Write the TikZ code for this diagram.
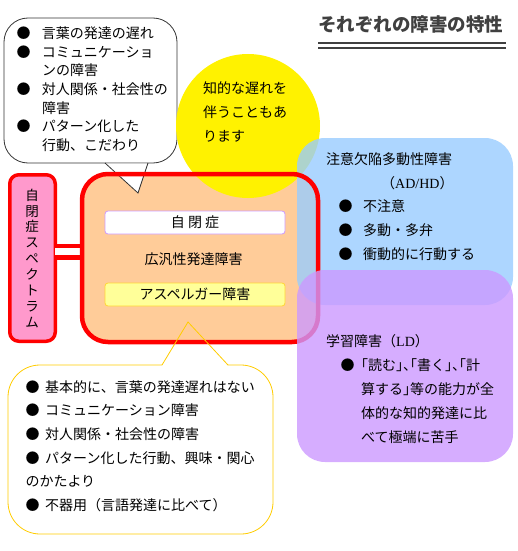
\documentclass[tikz,border=0pt]{standalone}
\usepackage{fontspec}
\setmainfont{Noto Sans CJK JP}
\newfontfamily\romanfont{Liberation Serif}
\usepackage{xcolor}

\definecolor{peach}{HTML}{FFCC99}
\definecolor{pinkfill}{HTML}{FF99CC}
\definecolor{adhdblue}{HTML}{99CCFF}
\definecolor{ldpurple}{HTML}{CC99FF}
\definecolor{aspyellow}{HTML}{FFFF99}
\definecolor{gold}{HTML}{FFCC00}
\definecolor{titlegray}{HTML}{404040}

\newcommand{\bul}[1][24pt]{\makebox[#1][l]{●}}
\newcommand{\halfpunct}[1]{{\addfontfeatures{RawFeature=+halt}#1}}

\begin{document}
\begin{tikzpicture}[x=1pt,y=-1pt,
  txt/.style={inner sep=0pt,align=left,anchor=base west},
  pitch/.style={font=\fontsize{14}{#1}\selectfont},
  box/.style={inner sep=0pt,outer sep=0pt,anchor=north west},
  talkbox/.style={box,draw=black!80,fill=white,line width=0.8pt,rounded corners=24pt},
  notebox/.style={box,draw=gold,fill=white,line width=0.8pt,rounded corners=32pt},
  softbox/.style={box,rounded corners=28pt,fill opacity=0.8,minimum width=216pt}]
  \useasboundingbox (0,0) rectangle (517,551);

  % title
  \node[txt,font=\fontsize{18.5}{20}\selectfont\bfseries,text=titlegray] (title) at (318,32) {それぞれの障害の特性};
  \draw[titlegray,line width=2.6pt,double distance=2.4pt] (318,45.5) -- (506,45.5);

  % callout at the top (base = last line)
  \node[talkbox,minimum width=173pt,minimum height=145pt] (talk) at (4,18) {};
  \node[txt,pitch=18.7] (talktxt) at (16.3,150.5) {\bul[25.5pt]言葉の発達の遅れ\\
    \bul[25.5pt]コミュニケーショ\\ \hspace*{25.5pt}ンの障害\\
    \bul[25.5pt]対人関係・社会性の\\ \hspace*{25.5pt}障害\\
    \bul[25.5pt]パターン化した\\ \hspace*{25.5pt}行動、こだわり};

  % spectrum bar
  \node[box,draw=red,fill=pinkfill,line width=3.5pt,rounded corners=9pt,
    minimum width=45.5pt,minimum height=166.5pt] (spec) at (9.75,174.75) {};
  \node[inner sep=0pt,font=\fontsize{13.5}{15.9}\selectfont,align=center,anchor=base] (spectxt)
    at (32,327.3) {自\\閉\\症\\ス\\ペ\\ク\\ト\\ラ\\ム};

  % pdd box, circle, tail, adhd
  \node[box,fill=peach,rounded corners=26pt,minimum width=236pt,minimum height=168pt] (pdd) at (82,174) {};
  \node[circle,fill=yellow,minimum size=144pt,inner sep=0pt] (slow) at (248,126) {};
  \node[txt,pitch=24] (slowtxt) at (203,141.3) {知的な遅れを\\伴うこともあ\\ります};
  \fill[white] (105.5,163.6) -- (138,193) -- (147.5,163.6) -- cycle;
  \draw[black!80,line width=0.8pt] (105,163) -- (138,193) -- (148,163);
  \node[softbox,fill=adhdblue,minimum height=167pt] (adhd) at (297,138) {};

  \coordinate (bar) at (0,251.5);
  \draw[red,line width=4.5pt,double distance=7pt] (spec.east |- bar) -- (pdd.west |- bar);
  \draw[red,line width=4.5pt,rounded corners=26pt] (pdd.north west) rectangle (pdd.south east);

  \node[box,draw=ldpurple,fill=white,line width=0.8pt,rounded corners=3pt,
    minimum width=180pt,minimum height=23pt,font=\fontsize{14}{16}\selectfont] (autism) at (105,211) {自 閉 症};
  \node[font=\fontsize{14}{16}\selectfont] (pddtxt) at (193.5,259) {広汎性発達障害};
  \node[box,draw=gold!80,fill=aspyellow,line width=0.8pt,rounded corners=3pt,
    minimum width=180pt,minimum height=23pt,font=\fontsize{14}{16}\selectfont] (asp) at (105,283) {アスペルガー障害};

  \node[txt,pitch=23.75] (adhdtxt) at (326,259.3) {注意欠陥多動性障害\\
    \hspace*{55pt}（{\romanfont AD/HD}）\\
    \hspace*{12.3pt}\bul[24.7pt]不注意\\
    \hspace*{12.3pt}\bul[24.7pt]多動・多弁\\
    \hspace*{12.3pt}\bul[24.7pt]衝動的に行動する};

  % learning disorder
  \node[softbox,fill=ldpurple,minimum height=192pt] (ld) at (297,270) {};
  \node[txt,pitch=24] (ldtxt) at (326,442.3) {学習障害（{\romanfont LD}）\\
    \hspace*{14.3pt}\bul[20.7pt]\halfpunct{「}読む\halfpunct{」、「}書く\halfpunct{」、「}計\\
    \hspace*{35pt}算する\halfpunct{」}等の能力が全\\
    \hspace*{35pt}体的な知的発達に比\\
    \hspace*{35pt}べて極端に苦手};

  % callout at the bottom
  \node[notebox,minimum width=265pt,minimum height=169pt] (note) at (8,365) {};
  \fill[white] (162.1,365.8) -- (174.7,344.5) -- (208.5,344.5) -- (227.8,365.8) -- cycle;
  \draw[gold,line width=0.8pt] (162,365) -- (188,322) -- (228,365);
  \node[txt,pitch=23.6] (notetxt) at (25.3,510.3) {\bul[19.7pt]基本的に、言葉の発達遅れはない\\
    \bul[19.7pt]コミュニケーション障害\\
    \bul[19.7pt]対人関係・社会性の障害\\
    \bul[19.7pt]パターン化した行動、興味・関心\\
    のかたより\\
    \bul[19.7pt]不器用（言語発達に比べて）};
\end{tikzpicture}
\end{document}
